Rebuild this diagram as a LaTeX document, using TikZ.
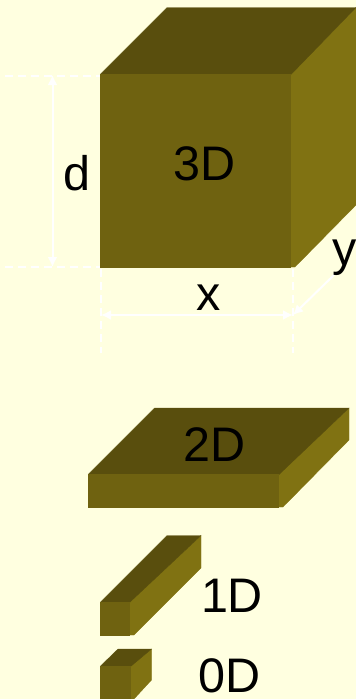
\documentclass[tikz,border=0pt]{standalone}
\usepackage{fontspec}
\setmainfont{Liberation Sans}
\usetikzlibrary{arrows.meta}
\definecolor{bgc}{HTML}{FFFFE0}
\definecolor{frontc}{HTML}{6F6210}
\definecolor{topc}{HTML}{594E0D}
\definecolor{sidec}{HTML}{807212}
\tikzset{
  frontface/.style={fill=frontc,draw=frontc,line width=0.3pt},
  topface/.style={fill=topc,draw=topc,line width=0.3pt},
  sideface/.style={fill=sidec,draw=sidec,line width=0.3pt},
  label/.style={anchor=base,inner sep=0pt,font=\fontsize{48.5}{49}\selectfont,text=black},
  guide/.style={draw=white,line width=2pt,dash pattern=on 8pt off 5pt},
  dimline/.style={draw=white,line width=2pt,{Latex[length=10pt,width=10pt]}-{Latex[length=10pt,width=10pt]}},
  dimend/.style={draw=white,line width=2pt,-{Latex[length=10pt,width=10pt]}},
}
\begin{document}
\begin{tikzpicture}[x=1pt,y=-1pt]
\useasboundingbox (0,0) rectangle (356,699);
\fill[bgc] (0,0) rectangle (356,699);
% 3D cube
\path[sideface] (290.5,74) -- (356,7.5) -- (356,205) -- (295,267) -- (290.5,267) -- cycle;
\path[topface] (100.5,74) -- (167,7.5) -- (356,7.5) -- (290.5,75) -- cycle;
\path[frontface] (100.5,74) rectangle (290.5,267);
% guides
\coordinate (dT) at (52.5,75);
\coordinate (dB) at (52.5,267);
\coordinate (xL) at (101,315);
\coordinate (xR) at (293,315);
\coordinate (yT) at (334,275);
\draw[guide] (5,75.5) -- (100,75.5);
\draw[guide] (5,267) -- (100,267);
\draw[guide] (101,269) -- (101,353);
\draw[guide] (293,269) -- (293,353);
\draw[dimline] (dT) -- (dB);
\draw[dimline] (xL) -- (xR);
\draw[dimend] (yT) -- (xR);
\node[label] (t3d) at (204.5,180) {3D};
\node[label] (td) at (76.5,190) {d};
\node[label] (tx) at (208.5,310) {x};
\node[label] (ty) at (344.5,265) {y};
% 2D slab
\path[sideface] (278.5,474) -- (349,408) -- (349,440) -- (283,507) -- (278.5,507) -- cycle;
\path[topface] (88.5,474) -- (154.5,408) -- (349,408) -- (278.5,475) -- cycle;
\path[frontface] (88.5,474) rectangle (278.5,507);
\node[label] (t2d) at (214.5,461) {2D};
% 1D bar
\path[sideface] (129,602) -- (201,535.5) -- (201,568) -- (134,635) -- (129,635) -- cycle;
\path[topface] (100.5,602) -- (167,535.5) -- (201,535.5) -- (129,603) -- cycle;
\path[frontface] (100.5,602) rectangle (129,635);
\node[label] (t1d) at (232,612) {1D};
% 0D box
\path[sideface] (130,666) -- (151.5,649) -- (151.5,680) -- (134,699) -- (130,699) -- cycle;
\path[topface] (100.5,666) -- (118,649) -- (151.5,649) -- (130,667) -- cycle;
\path[frontface] (100.5,666) rectangle (130,699);
\node[label] (t0d) at (229.5,692) {0D};
\end{tikzpicture}
\end{document}
